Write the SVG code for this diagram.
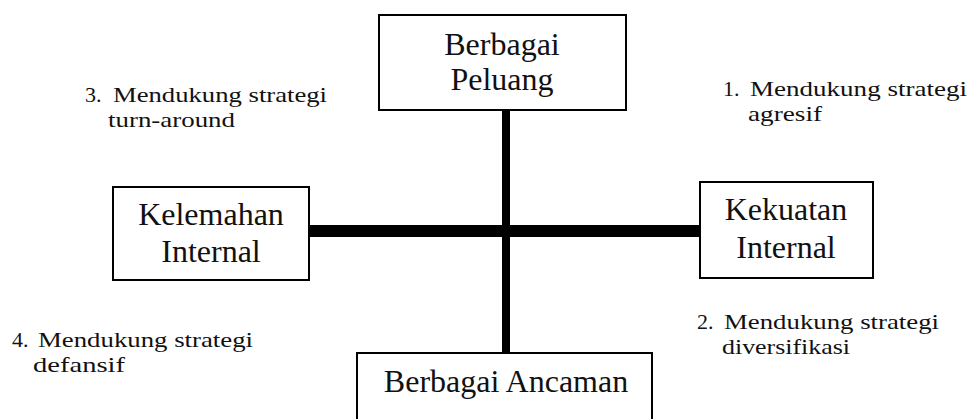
<svg xmlns="http://www.w3.org/2000/svg" width="970" height="419" viewBox="0 0 970 419">
<style>
.box{fill:#fff;stroke:#000;stroke-width:2}
.bt{font-family:"Liberation Serif","Times New Roman",serif;font-size:32px;fill:#111;text-anchor:middle}
.lb{font-family:"Liberation Serif","Times New Roman",serif;font-size:22px;fill:#111}
.ax{stroke:#000;fill:none}
</style>
<rect width="970" height="419" fill="#fff"/>
<g id="connectors">
<line class="ax" x1="506" y1="110" x2="506" y2="353" stroke-width="8"/>
<line class="ax" x1="309" y1="231" x2="700" y2="231" stroke-width="12"/>
</g>
<g id="node-peluang">
<rect class="box" x="379" y="15" width="247" height="95"/>
<text class="bt" x="502" y="55">Berbagai</text>
<text class="bt" x="502" y="90">Peluang</text>
</g>
<g id="node-kelemahan">
<rect class="box" x="113" y="187" width="196" height="93"/>
<text class="bt" x="211" y="225">Kelemahan</text>
<text class="bt" x="211" y="262">Internal</text>
</g>
<g id="node-kekuatan">
<rect class="box" x="700" y="182" width="173" height="96"/>
<text class="bt" x="786" y="220">Kekuatan</text>
<text class="bt" x="786" y="258">Internal</text>
</g>
<g id="node-ancaman">
<rect class="box" x="357" y="353" width="295" height="80"/>
<text class="bt" x="506" y="392">Berbagai Ancaman</text>
</g>
<g id="labels">
<text class="lb" x="85" y="102">3. <tspan x="113" textLength="214" lengthAdjust="spacingAndGlyphs">Mendukung strategi</tspan></text>
<text class="lb" x="108" y="127" textLength="127" lengthAdjust="spacingAndGlyphs">turn-around</text>
<text class="lb" x="723" y="96">1. <tspan x="750" textLength="217" lengthAdjust="spacingAndGlyphs">Mendukung strategi</tspan></text>
<text class="lb" x="748" y="121" textLength="74" lengthAdjust="spacingAndGlyphs">agresif</text>
<text class="lb" x="12" y="347">4. <tspan x="38" textLength="215" lengthAdjust="spacingAndGlyphs">Mendukung strategi</tspan></text>
<text class="lb" x="33" y="372" textLength="92" lengthAdjust="spacingAndGlyphs">defansif</text>
<text class="lb" x="697" y="329">2. <tspan x="724" textLength="215" lengthAdjust="spacingAndGlyphs">Mendukung strategi</tspan></text>
<text class="lb" x="722" y="354" textLength="128" lengthAdjust="spacingAndGlyphs">diversifikasi</text>
</g>
</svg>
